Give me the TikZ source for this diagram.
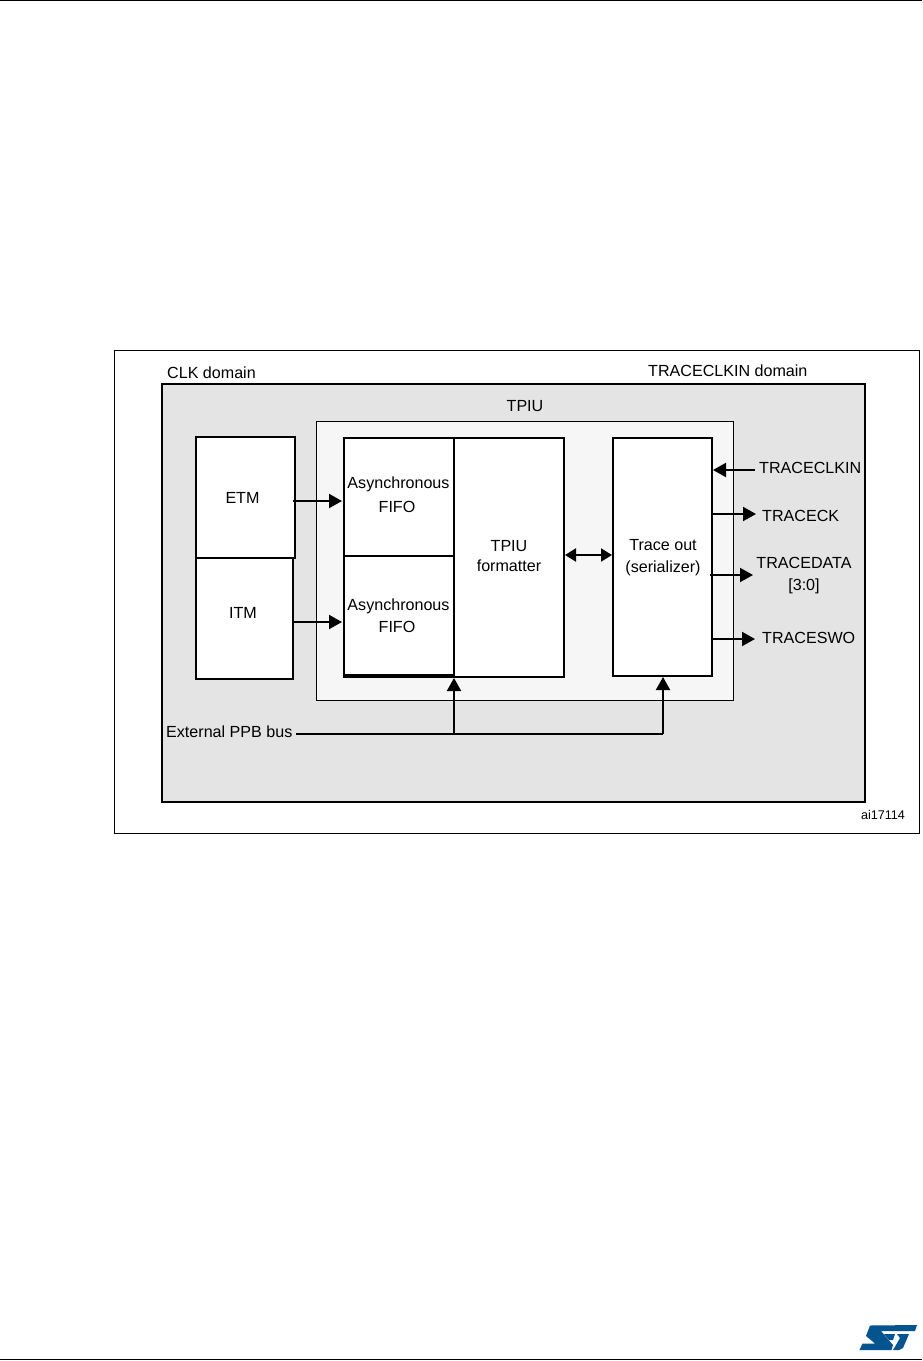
\documentclass[tikz,border=0pt]{standalone}
\usepackage{fontspec}
\setmainfont{Liberation Sans}
\usetikzlibrary{arrows.meta}
\definecolor{dom}{HTML}{E4E4E4}
\definecolor{tpiu}{HTML}{F6F6F6}
\definecolor{stblue}{HTML}{03548F}
\tikzset{
  x=1pt,y=-1pt,
  blockbox/.style={draw=black,line width=2pt,fill=white,inner sep=0pt,outer sep=0pt,anchor=north west},
  lbl/.style={font=\fontsize{16.1}{20}\selectfont,inner sep=0pt,align=center},
  conn/.style={line width=2pt,-{Triangle[length=13pt,width=14pt]}},
  connb/.style={line width=2pt,{Triangle[length=11pt,width=13pt]}-{Triangle[length=11pt,width=13pt]}},
  wire/.style={line width=2pt}
}
\begin{document}
\begin{tikzpicture}
\useasboundingbox (0,0) rectangle (922,1361);
\fill[white] (0,0) rectangle (922,1361);
\draw[line width=1.2pt] (0,0.5) -- (922,0.5);
\draw[line width=1.2pt] (0,1359.5) -- (922,1359.5);
% frames
\node[draw=black,line width=0.9pt,minimum width=805pt,minimum height=483pt,inner sep=0pt,outer sep=0pt,anchor=north west] (frame) at (114,350) {};
\node[blockbox,fill=dom,minimum width=703pt,minimum height=418pt] (clk) at (162,384) {};
\node[draw=black,line width=0.8pt,fill=tpiu,minimum width=417pt,minimum height=279pt,inner sep=0pt,outer sep=0pt,anchor=north west] (tp) at (316,421) {};
% blocks
\node[blockbox,minimum width=99pt,minimum height=121pt] (etm) at (196,437) {};
\node[blockbox,minimum width=97pt,minimum height=121pt] (itm) at (196,558) {};
\node[blockbox,minimum width=220pt,minimum height=239pt] (fmt) at (344,438) {};
\node[blockbox,minimum width=110pt,minimum height=118pt] (f1) at (344,438) {};
\node[blockbox,minimum width=110pt,minimum height=119pt] (f2) at (344,556) {};
\node[blockbox,minimum width=99pt,minimum height=238pt] (tr) at (613,438) {};
% labels
\node[lbl,anchor=west] (l1) at (167,373) {CLK domain};
\node[lbl,anchor=west] (l2) at (648,370.5) {TRACECLKIN domain};
\node[lbl] (l3) at (525,406) {TPIU};
\node[lbl] (l4) at (242.5,498) {ETM};
\node[lbl] (l5) at (243,613) {ITM};
\node[lbl] (l6) at (398.5,484) {Asynchronous};
\node[lbl] (l7) at (397,507) {FIFO};
\node[lbl] (l8) at (398.5,606) {Asynchronous};
\node[lbl] (l9) at (397,627) {FIFO};
\node[lbl] (l10) at (509,556) {TPIU\\formatter};
\node[lbl] (l11) at (663,558) {Trace out\\[2pt](serializer)};
\node[lbl,anchor=west] (t1) at (759,467.5) {TRACECLKIN};
\node[lbl,anchor=west] (t2) at (762,515.5) {TRACECK};
\node[lbl,anchor=center] (t3) at (804,576) {TRACEDATA\\[2pt]{[3:0]}};
\node[lbl,anchor=west] (t4) at (762,638) {TRACESWO};
\node[lbl,anchor=west] (ppb) at (166,731.5) {External PPB bus};
\node[font=\fontsize{12.6}{15}\selectfont,inner sep=0pt] (ai) at (883,815) {ai17114};
% connectors
\coordinate (etmout) at (293,501);
\coordinate (f1in) at (342,501);
\coordinate (itmout) at (292,622);
\coordinate (f2in) at (342,622);
\coordinate (tl) at (755,470);
\coordinate (tli) at (713,470);
\draw[conn] (etmout) -- (f1in);
\draw[conn] (itmout) -- (f2in);
\draw[conn] (tl) -- (tli);
\coordinate (o1) at (712,514); \coordinate (o1e) at (756,514);
\coordinate (o2) at (710,575); \coordinate (o2e) at (753,575);
\coordinate (o3) at (712,639); \coordinate (o3e) at (755,639);
\draw[conn] (o1) -- (o1e);
\draw[conn] (o2) -- (o2e);
\draw[conn] (o3) -- (o3e);
\coordinate (ba) at (565,555); \coordinate (bb) at (612,555);
\draw[connb] (ba) -- (bb);
\coordinate (p0) at (296,734); \coordinate (pj) at (454,734); \coordinate (pe) at (663,734);
\coordinate (u1) at (454,678); \coordinate (u2) at (663,677);
\draw[wire] (p0) -- (pe);
\draw[conn] (pj) -- (u1);
\draw[conn] (pe) -- (u2);
% logo
\fill[stblue] (870,1325.5) -- (917,1325) -- (915,1331) -- (881,1331) -- (893,1345) -- (891.5,1350) -- (859.5,1350) -- (862.5,1343.5) -- (875,1343.5) -- (866,1336) -- cycle;
\fill[stblue] (897,1334) -- (909,1334) -- (903,1348) -- (899,1350) -- (893,1350) -- (896,1345) -- (900,1338) -- cycle;
\fill[stblue] (884,1334) -- (895,1334) -- (893,1340) -- (889,1340) -- cycle;
\end{tikzpicture}
\end{document}
